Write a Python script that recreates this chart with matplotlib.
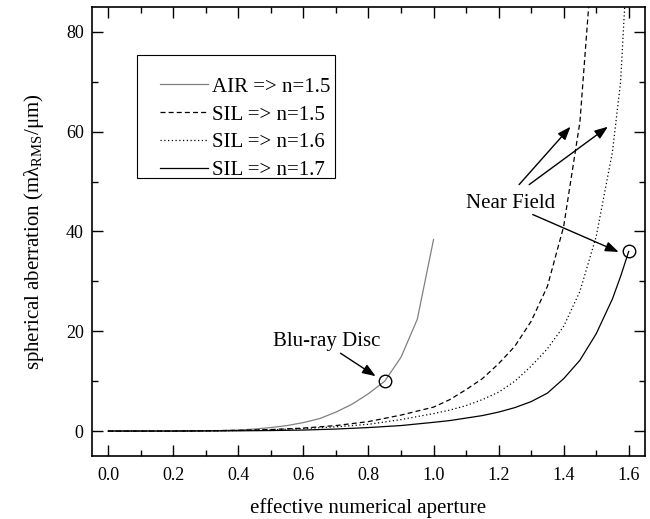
import matplotlib
matplotlib.use("Agg")
import matplotlib.pyplot as plt
from matplotlib.ticker import MultipleLocator, FormatStrFormatter
from matplotlib.patches import Rectangle

plt.rcParams['font.family'] = ['Liberation Serif', 'DejaVu Serif']
plt.rcParams['mathtext.fontset'] = 'custom'
plt.rcParams['mathtext.rm'] = 'Liberation Serif'

# data
na_air = [0.0, 0.1, 0.2, 0.3, 0.35, 0.4, 0.45, 0.5, 0.55, 0.6, 0.65, 0.7, 0.75, 0.8, 0.85, 0.9, 0.95, 1.0]
sa_air = [0.0, 0.0, 0.01, 0.05, 0.1, 0.2, 0.4, 0.7, 1.1, 1.7, 2.5, 3.8, 5.4, 7.5, 10.0, 14.8, 22.4, 38.4]

na_sil15 = [0.0, 0.1, 0.2, 0.3, 0.4, 0.5, 0.6, 0.7, 0.8, 0.9, 1.0, 1.05, 1.1, 1.15, 1.2, 1.25, 1.3,
            1.35, 1.4, 1.45, 1.5]
sa_sil15 = [0.0, 0.0, 0.0, 0.05, 0.15, 0.3, 0.6, 1.1, 1.9, 3.2, 4.8, 6.3, 8.3, 10.5, 13.5, 17.0, 22.0,
            29.0, 41.0, 62.0, 105.0]

na_sil = [0.0, 0.1, 0.2, 0.3, 0.4, 0.5, 0.6, 0.7, 0.8, 0.9, 1.0, 1.05, 1.1, 1.15, 1.2, 1.25, 1.3,
          1.35, 1.4, 1.45, 1.5, 1.55, 1.575, 1.6]
sa_sil16 = [0.0, 0.0, 0.0, 0.03, 0.1, 0.25, 0.5, 0.85, 1.35, 2.3, 3.5, 4.2, 5.1, 6.3, 7.8, 10.0, 13.0,
            16.5, 21.0, 28.0, 39.0, 56.0, 70.0, 100.0]
sa_sil17 = [0.0, 0.0, 0.0, 0.02, 0.05, 0.1, 0.2, 0.4, 0.7, 1.1, 1.75, 2.1, 2.6, 3.1, 3.8, 4.7, 5.9,
            7.6, 10.5, 14.2, 19.5, 26.5, 31.0, 36.0]

labels = ['AIR => n=1.5', 'SIL => n=1.5', 'SIL => n=1.6', 'SIL => n=1.7']

bluray = (0.85, 10.0)
nearfield = (1.6, 36.0)

fig = plt.figure(figsize=(6.5, 5.19), dpi=100)
ax = fig.add_axes([0.1415, 0.1214, 0.8508, 0.8651])

ax.plot(na_air, sa_air, color='#808080', lw=0.9, label=labels[0])
ax.plot(na_sil15, sa_sil15, color='black', lw=0.9, ls=(0, (4, 2.5)), label=labels[1])
ax.plot(na_sil, sa_sil16, color='black', lw=0.9, ls=(0, (1, 2)), label=labels[2])
ax.plot(na_sil, sa_sil17, color='black', lw=0.9, ls='-', label=labels[3])

# highlighted points
for p in (bluray, nearfield):
    ax.plot(*p, 'o', ms=9, mfc='none', mec='black', mew=1.0)

arrow = dict(arrowstyle='-|>,head_length=0.8,head_width=0.3', color='black', lw=1.0,
             shrinkA=0, shrinkB=0)
ax.text(0.671, 18.0, 'Blu-ray Disc', ha='center', va='center', fontsize=15)
ax.annotate('', xy=(0.822, 11.0), xytext=(0.714, 15.6), arrowprops=arrow)

ax.text(1.236, 45.7, 'Near Field', ha='center', va='center', fontsize=15)
ax.annotate('', xy=(1.421, 61.0), xytext=(1.263, 49.4), arrowprops=arrow)
ax.annotate('', xy=(1.536, 61.0), xytext=(1.294, 49.4), arrowprops=arrow)
ax.annotate('', xy=(1.569, 35.9), xytext=(1.305, 43.4), arrowprops=arrow)

ax.set_xlim(-0.05, 1.65)
ax.set_ylim(-5, 85)
ax.xaxis.set_major_locator(MultipleLocator(0.2))
ax.xaxis.set_minor_locator(MultipleLocator(0.1))
ax.yaxis.set_major_locator(MultipleLocator(20))
ax.yaxis.set_minor_locator(MultipleLocator(10))
ax.xaxis.set_major_formatter(FormatStrFormatter('%.1f'))
ax.tick_params(which='both', direction='in', top=True, right=True, labelsize=13, width=1.0)
ax.tick_params(which='major', length=8)
ax.tick_params(which='minor', length=4)
ax.tick_params(axis='x', which='major', pad=8)
ax.tick_params(axis='y', which='major', pad=6)
for s in ax.spines.values():
    s.set_linewidth(1.2)

ax.set_xlabel('effective numerical aperture', fontsize=15, labelpad=10)
ax.set_ylabel(r'spherical aberration (mλ$_\mathregular{RMS}$/μm)', fontsize=15, labelpad=14)

# legend: Origin-style box with extra room above the first entry
fig.patches.append(Rectangle((137 / 650, 1 - 178 / 519), 198 / 650, 123 / 519,
                             transform=fig.transFigure, fill=False, ec='black', lw=0.8))
ax.legend(loc='upper left', bbox_to_anchor=(160 / 650, 1 - 77 / 519), bbox_transform=fig.transFigure,
          fontsize=15, frameon=False, handlelength=2.3, handletextpad=0.2,
          labelspacing=0.4, borderpad=0, borderaxespad=0)

fig.savefig('out.png', dpi=100)
